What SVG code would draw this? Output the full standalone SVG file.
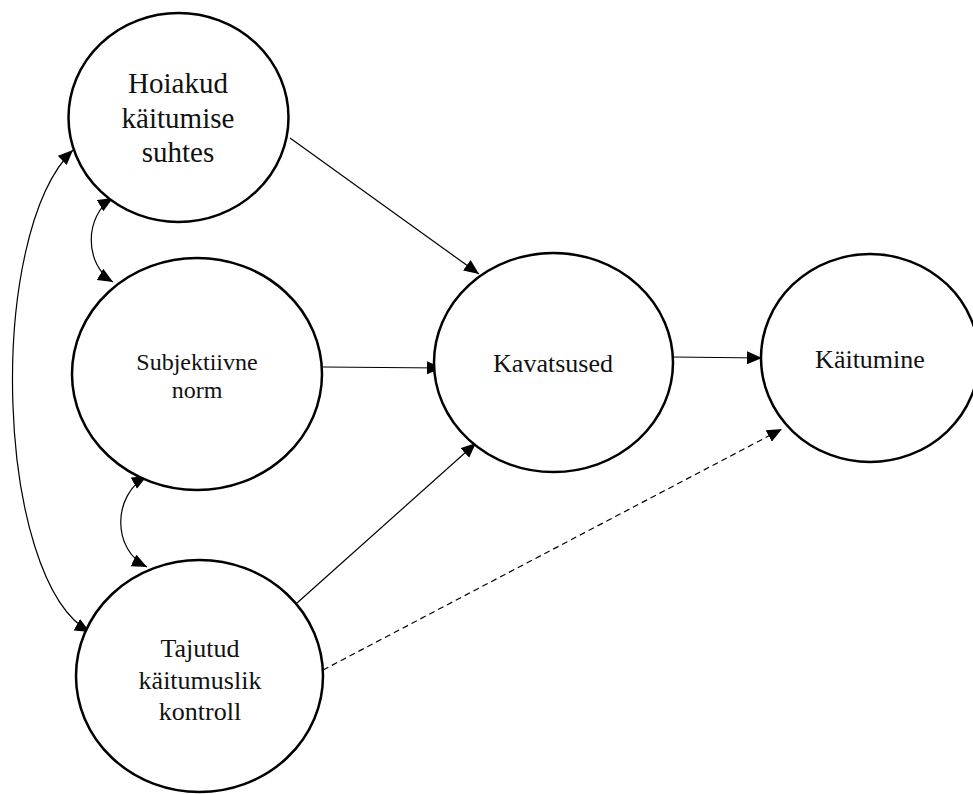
<svg xmlns="http://www.w3.org/2000/svg" width="973" height="794" viewBox="0 0 973 794">
  <style>
    .node { fill: #fff; stroke: #000; stroke-width: 2.5; }
    .lbl { font-family: "Liberation Serif", "Times New Roman", "DejaVu Serif", serif; fill: #111; text-anchor: middle; }
    .edge { fill: none; stroke: #000; stroke-width: 1.2; }
    .dash { stroke-dasharray: 6 4; }
  </style>
  <defs>
    <marker id="arr" markerUnits="userSpaceOnUse" markerWidth="16" markerHeight="14" refX="15" refY="6.5" orient="auto-start-reverse">
      <path d="M0,0 L15,6.5 L0,13 z" fill="#000"/>
    </marker>
  </defs>
  <rect width="973" height="794" fill="#fff"/>

  <g id="connectors">
    <path class="edge" d="M290,138 L479,274" marker-end="url(#arr)"/>
    <path class="edge" d="M323,367 L442,368" marker-end="url(#arr)"/>
    <path class="edge" d="M297,603 L476,443" marker-end="url(#arr)"/>
    <path class="edge dash" d="M323,670 L782,429" marker-end="url(#arr)"/>
    <path class="edge" d="M673,357 L762,358" marker-end="url(#arr)"/>
    <path class="edge" d="M113,198 C84,215 84,265 113,282" marker-start="url(#arr)" marker-end="url(#arr)"/>
    <path class="edge" d="M147,476 C112,495 112,550 147,567" marker-start="url(#arr)" marker-end="url(#arr)"/>
    <path class="edge" d="M73,150 C-15,235 -5,580 90,632" marker-start="url(#arr)" marker-end="url(#arr)"/>
  </g>

  <g id="hoiakud">
    <ellipse class="node" cx="178.5" cy="117.5" rx="110" ry="104.5"/>
    <text class="lbl" font-size="29" x="178" y="93">Hoiakud</text>
    <text class="lbl" font-size="29" x="178" y="128">käitumise</text>
    <text class="lbl" font-size="29" x="178" y="162">suhtes</text>
  </g>

  <g id="subjektiivne">
    <ellipse class="node" cx="197" cy="374" rx="125" ry="116"/>
    <text class="lbl" font-size="24" x="197" y="370">Subjektiivne</text>
    <text class="lbl" font-size="24" x="197" y="398">norm</text>
  </g>

  <g id="tajutud">
    <ellipse class="node" cx="199.5" cy="676" rx="123.5" ry="116"/>
    <text class="lbl" font-size="26" x="200" y="657">Tajutud</text>
    <text class="lbl" font-size="26" x="200" y="689">käitumuslik</text>
    <text class="lbl" font-size="26" x="200" y="720">kontroll</text>
  </g>

  <g id="kavatsused">
    <ellipse class="node" cx="553.5" cy="362.5" rx="119.5" ry="109.5"/>
    <text class="lbl" font-size="26" x="553" y="372">Kavatsused</text>
  </g>

  <g id="kaitumine">
    <ellipse class="node" cx="870" cy="358" rx="109" ry="104"/>
    <text class="lbl" font-size="26" x="870" y="368">Käitumine</text>
  </g>
</svg>
